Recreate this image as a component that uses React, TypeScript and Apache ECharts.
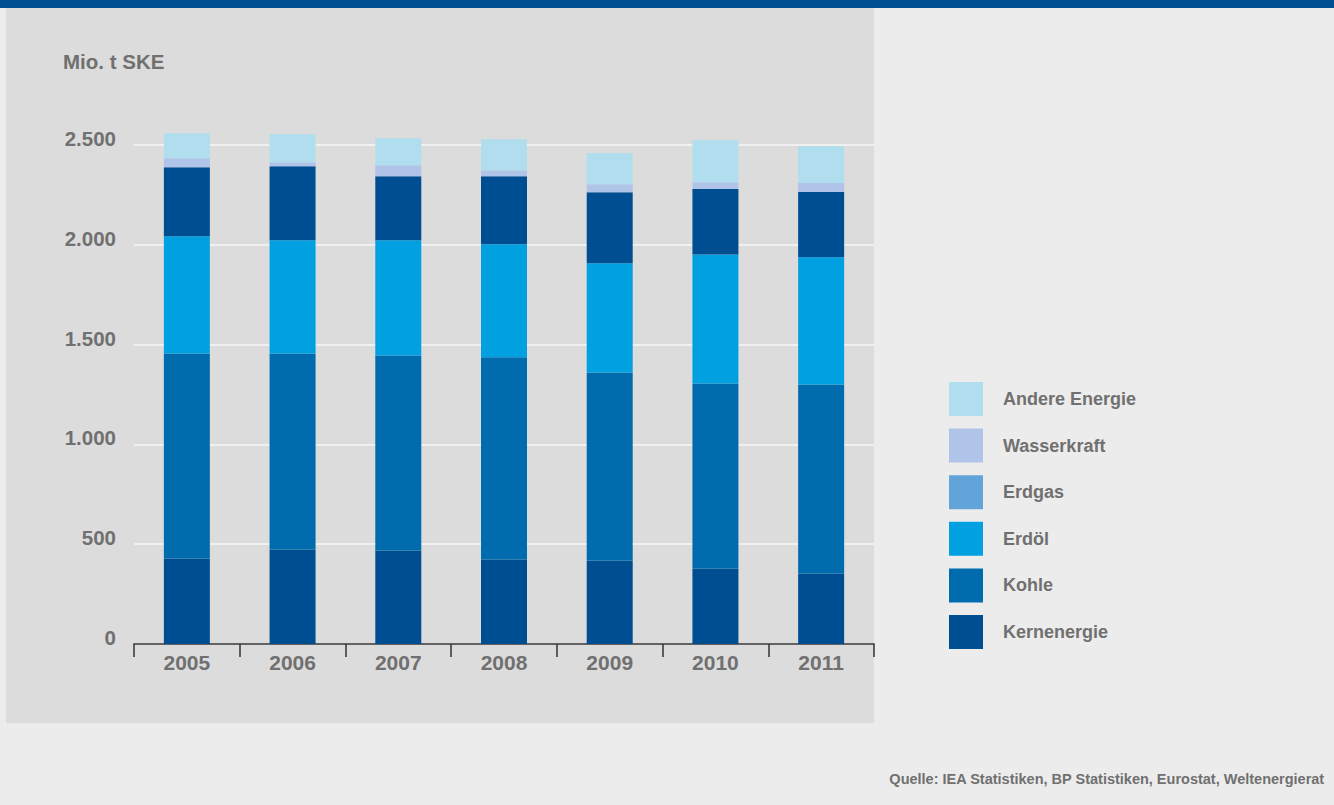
import React, { useEffect, useRef } from "react";
import * as echarts from "echarts";

const years = ["2005", "2006", "2007", "2008", "2009", "2010", "2011"];
const kernenergie = [428, 473, 468, 423, 418, 378, 353];
const kohle = [1028, 983, 978, 1013, 942, 927, 947];
const erdoel = [587, 567, 577, 567, 547, 647, 637];
const erdgas = [346, 371, 321, 341, 356, 327, 327];
const wasserkraft = [45, 20, 55, 30, 40, 35, 45];
const andere = [125, 140, 135, 155, 157, 210, 185];
const yTicks = [0, 500, 1000, 1500, 2000, 2500];

const FONT = "'Liberation Sans', Arial, sans-serif";
const GRAY = "#707070";

export default function App() {
  const ref = useRef<HTMLDivElement>(null);
  useEffect(() => {
    document.body.style.margin = "0";
    const chart = echarts.init(ref.current!, undefined, { renderer: "svg" });
    const mk = (name: string, data: number[], color: string) => ({
      name,
      type: "bar",
      stack: "total",
      barWidth: 46,
      clip: false,
      data,
      itemStyle: { color },
      emphasis: { disabled: true },
    });
    chart.setOption({
      animation: false,
      textStyle: { fontFamily: FONT },
      grid: { left: 134, right: 460, top: 145, bottom: 161 },
      xAxis: {
        type: "category",
        data: years,
        axisLine: { lineStyle: { color: "#333333", width: 1.5 } },
        axisTick: { show: true, inside: false, alignWithLabel: false, interval: 0, length: 13, lineStyle: { color: "#333333", width: 1.5 } },
        axisLabel: { color: GRAY, fontSize: 21, fontWeight: "bold", margin: 8, fontFamily: FONT },
      },
      yAxis: {
        type: "value",
        min: 0,
        max: 2500,
        interval: 500,
        axisLine: { show: false },
        axisTick: { show: false },
        splitLine: { lineStyle: { color: "#f7f7f7", width: 1.5 } },
        axisLabel: {
          color: GRAY,
          fontSize: 20.5,
          fontWeight: "bold",
          margin: 18,
          fontFamily: FONT,
          verticalAlign: "bottom",
          lineHeight: 13,
          formatter: (v: number) => (yTicks.includes(v) ? v.toLocaleString("de-DE") : ""),
        },
      },
      legend: {
        orient: "vertical",
        left: 949,
        top: 382,
        padding: 0,
        itemWidth: 34,
        itemHeight: 34,
        itemGap: 12.6,
        icon: "rect",
        selectedMode: false,
        textStyle: { color: GRAY, fontSize: 18, fontWeight: "bold", fontFamily: FONT, padding: [0, 0, 0, 15] },
        data: [
          { name: "Andere Energie" },
          { name: "Wasserkraft" },
          { name: "Erdgas", itemStyle: { color: "#62a3d9" } },
          { name: "Erdöl" },
          { name: "Kohle" },
          { name: "Kernenergie" },
        ],
      },
      graphic: [
        {
          type: "text",
          left: 63,
          top: 51,
          style: { text: "Mio. t SKE", fill: GRAY, font: `bold 20.5px ${FONT}` },
        },
        {
          type: "text",
          right: 9,
          top: 771,
          style: {
            text: "Quelle: IEA Statistiken, BP Statistiken, Eurostat, Weltenergierat",
            fill: GRAY,
            font: `bold 14.5px ${FONT}`,
          },
        },
      ],
      series: [
        mk("Kernenergie", kernenergie, "#004e92"),
        mk("Kohle", kohle, "#006cad"),
        mk("Erdöl", erdoel, "#00a0e1"),
        mk("Erdgas", erdgas, "#004e92"),
        mk("Wasserkraft", wasserkraft, "#afc4e8"),
        mk("Andere Energie", andere, "#b0deef"),
      ],
    });
    return () => chart.dispose();
  }, []);
  return (
    <div style={{ position: "relative", width: 1334, height: 805, background: "#ececec", overflow: "hidden" }}>
      <div style={{ position: "absolute", left: 0, top: 0, width: 1334, height: 8, background: "#004f93" }} />
      <div style={{ position: "absolute", left: 6, top: 8, width: 868, height: 715, background: "#dcdcdc" }} />
      <div ref={ref} style={{ position: "absolute", left: 0, top: 0, width: 1334, height: 805 }} />
    </div>
  );
}
